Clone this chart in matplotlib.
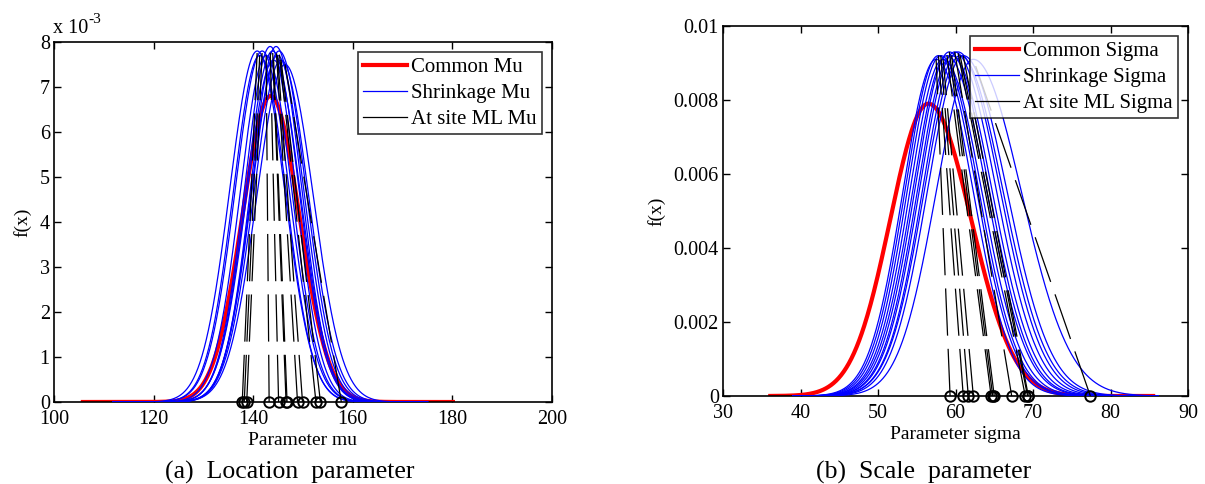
import numpy as np
import matplotlib
matplotlib.use("Agg")
import matplotlib.pyplot as plt
from matplotlib.ticker import FixedLocator, FuncFormatter

plt.rcParams['font.family'] = ['Liberation Serif', 'DejaVu Serif']

# ---------------- Data: (a) location parameter mu ----------------
mu_common_center = 143.5
mu_common_peak = 0.0068
mu_common_sd = (5.7, 5.8)
mu_common_range = (105.8, 180.1)

mu_shrink_center = [140.8, 141.3, 141.8, 142.6, 143.4, 143.9, 144.1, 144.6, 144.9, 145.2, 145.6, 146.4]
mu_shrink_peak = [0.0078, 0.0077, 0.0078, 0.0077, 0.0079, 0.0078, 0.0076, 0.0079, 0.0077, 0.0078, 0.0076, 0.0075]
mu_shrink_sd = [5.5, 5.3, 5.4, 5.2, 5.1, 5.3, 5.4, 5.1, 5.3, 5.4, 5.5, 5.7]
mu_shrink_range = (111.8, 175.0)
mu_ml = [137.8, 138.2, 138.7, 143.2, 145.1, 146.6, 146.8, 148.9, 149.9, 152.6, 153.5, 157.7]

# ---------------- Data: (b) scale parameter sigma ----------------
sg_common_center = 56.5
sg_common_peak = 0.0079
sg_common_sd = (4.9, 5.5)
sg_common_range = (36.1, 85.5)

sg_shrink_center = [57.5, 57.8, 58.1, 58.4, 58.9, 59.2, 59.5, 59.9, 60.3, 60.6, 61.0, 62.3]
sg_shrink_peak = [0.0091, 0.0092, 0.0092, 0.0091, 0.0092, 0.0093, 0.0092, 0.0093, 0.0093, 0.0092, 0.0092, 0.0091]
sg_shrink_sdl = [4.3, 4.3, 4.3, 4.3, 4.4, 4.4, 4.4, 4.5, 4.5, 4.6, 4.6, 4.8]
sg_shrink_sdr = [4.8, 4.9, 4.9, 5.0, 5.1, 5.1, 5.2, 5.3, 5.4, 5.5, 5.6, 6.2]
sg_shrink_range = (39.0, 86.1)
sg_ml = [59.3, 61.0, 61.65, 62.3, 64.6, 64.8, 65.0, 67.25, 69.0, 69.3, 69.4, 77.4]

mu_xticks = [100, 120, 140, 160, 180, 200]
mu_yticks = [0, 0.001, 0.002, 0.003, 0.004, 0.005, 0.006, 0.007, 0.008]
sg_xticks = [30, 40, 50, 60, 70, 80, 90]
sg_yticks = [0, 0.002, 0.004, 0.006, 0.008, 0.01]
sg_ytick_labels = ['0', '0.002', '0.004', '0.006', '0.008', '0.01']


def bell(x, c, sl, sr, peak):
    s = np.where(x < c, sl, sr)
    return peak * np.exp(-0.5 * ((x - c) / s) ** 2)


fig = plt.figure(figsize=(12.05, 4.84), dpi=100)
ax1 = fig.add_axes([54 / 1205, 1 - 402 / 484, (552 - 54) / 1205, (402 - 42) / 484])
ax2 = fig.add_axes([723 / 1205, 1 - 396 / 484, (1188 - 723) / 1205, (396 - 26) / 484])

FS = 12.5
LW_DASH = 0.9
dash = (34 / LW_DASH, 9.5 / LW_DASH)


def draw(ax, cc, cpk, csd, crange, sc, spk, sdl, sdr, srange, ml, labels):
    x = np.linspace(crange[0], crange[1], 600)
    xs = np.linspace(srange[0], srange[1], 600)
    ax.plot(x, bell(x, cc, csd[0], csd[1], cpk), color='#ff0000', lw=3,
            label=labels[0], zorder=2)
    for i in range(len(sc)):
        ax.plot(xs, bell(xs, sc[i], sdl[i], sdr[i], spk[i]), color='#0000ff', lw=0.9,
                label=labels[1] if i == 0 else None, zorder=3)
    for i in range(len(ml)):
        ax.plot([ml[i], sc[i]], [0, spk[i]], color='black', lw=LW_DASH, dashes=dash,
                label=labels[2] if i == 0 else None, zorder=4)
    ax.plot(ml, np.zeros(len(ml)), 'o', mfc='none', mec='black', ms=7.5, mew=1.4,
            clip_on=False, zorder=5)
    h, l = ax.get_legend_handles_labels()
    order = [l.index(labels[0]), l.index(labels[1]), l.index(labels[2])]
    leg = ax.legend([h[k] for k in order], [l[k] for k in order], loc='upper right',
                    fontsize=FS + 2.5, frameon=True, fancybox=False, edgecolor='black',
                    handlelength=2.1, handletextpad=0.2, labelspacing=0.3,
                    borderpad=0.25, borderaxespad=0.5)
    leg.get_frame().set_linewidth(1.2)
    for line in leg.get_lines():
        line.set_linestyle('-')
    leg.get_lines()[1].set_linewidth(0.9)
    leg.get_lines()[1].set_color('#0000ff')


draw(ax1, mu_common_center, mu_common_peak, mu_common_sd, mu_common_range,
     mu_shrink_center, mu_shrink_peak, mu_shrink_sd, mu_shrink_sd, mu_shrink_range, mu_ml,
     ['Common Mu', 'Shrinkage Mu', 'At site ML Mu'])
draw(ax2, sg_common_center, sg_common_peak, sg_common_sd, sg_common_range,
     sg_shrink_center, sg_shrink_peak, sg_shrink_sdl, sg_shrink_sdr, sg_shrink_range, sg_ml,
     ['Common Sigma', 'Shrinkage Sigma', 'At site ML Sigma'])

ax1.set_xlim(100, 200)
ax1.set_ylim(0, 0.008)
ax1.xaxis.set_major_locator(FixedLocator(mu_xticks))
ax1.yaxis.set_major_locator(FixedLocator(mu_yticks))
ax1.yaxis.set_major_formatter(FuncFormatter(lambda v, p: '%d' % round(v * 1000)))
ax1.set_xlabel('Parameter mu', fontsize=FS + 1.5, labelpad=2)
ax1.set_ylabel('f(x)', fontsize=FS + 1.5, labelpad=6)
ax1.text(-0.002, 1.012, 'x 10', transform=ax1.transAxes, fontsize=FS + 2,
         ha='left', va='bottom')
ax1.text(0.069, 1.045, '-3', transform=ax1.transAxes, fontsize=FS - 1.5,
         ha='left', va='bottom')

ax2.set_xlim(30, 90)
ax2.set_ylim(0, 0.01)
ax2.xaxis.set_major_locator(FixedLocator(sg_xticks))
ax2.yaxis.set_major_locator(FixedLocator(sg_yticks))
ax2.set_yticklabels(sg_ytick_labels)
ax2.set_xlabel('Parameter sigma', fontsize=FS + 1.5, labelpad=2)
ax2.set_ylabel('f(x)', fontsize=FS + 1.5, labelpad=6)

for ax in (ax1, ax2):
    ax.tick_params(direction='in', top=True, right=True, length=5, width=1,
                   labelsize=FS + 2)
    ax.tick_params(axis='x', pad=6)
    ax.tick_params(axis='y', pad=3)
    for s in ax.spines.values():
        s.set_linewidth(1.2)

fig.text(290 / 1205, 1 - 472 / 484, '(a)  Location  parameter', fontsize=18.5,
         ha='center', va='center')
fig.text(924 / 1205, 1 - 472 / 484, '(b)  Scale  parameter', fontsize=18.5,
         ha='center', va='center')

fig.savefig('out.png', dpi=100)
